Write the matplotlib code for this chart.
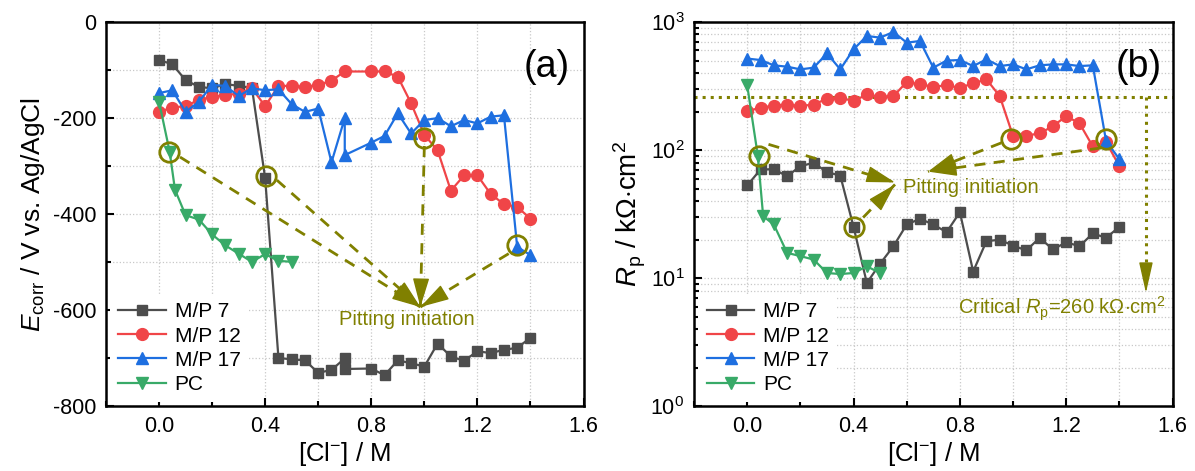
import numpy as np
import matplotlib
matplotlib.use("Agg")
import matplotlib.pyplot as plt
from matplotlib.ticker import MultipleLocator, LogLocator, NullFormatter

plt.rcParams['font.family'] = ['Liberation Sans', 'DejaVu Sans']
plt.rcParams['mathtext.fontset'] = 'custom'
plt.rcParams['mathtext.rm'] = 'Liberation Sans'
plt.rcParams['mathtext.it'] = 'Liberation Sans:italic'
plt.rcParams['axes.unicode_minus'] = False

# Data: [Cl-] concentration (M)
x_all = [0.0, 0.05, 0.1, 0.15, 0.2, 0.25, 0.3, 0.35, 0.4, 0.45, 0.5, 0.55, 0.6, 0.65,
         0.7, 0.75, 0.8, 0.85, 0.9, 0.95, 1.0, 1.05, 1.1, 1.15, 1.2, 1.25, 1.3, 1.35, 1.4]
# panel (a) has no 0.75 point and a doubled 0.7 point for some series
x_a = [0.0, 0.05, 0.1, 0.15, 0.2, 0.25, 0.3, 0.35, 0.4, 0.45, 0.5, 0.55, 0.6, 0.65,
       0.7, 0.7, 0.8, 0.85, 0.9, 0.95, 1.0, 1.05, 1.1, 1.15, 1.2, 1.25, 1.3, 1.35, 1.4]
x_a12 = [0.0, 0.05, 0.1, 0.15, 0.2, 0.25, 0.3, 0.35, 0.4, 0.45, 0.5, 0.55, 0.6, 0.65,
         0.7, 0.8, 0.85, 0.9, 0.95, 1.0, 1.05, 1.1, 1.15, 1.2, 1.25, 1.3, 1.35, 1.4]
x_pc = [0.0, 0.04, 0.06, 0.1, 0.15, 0.2, 0.25, 0.3, 0.35, 0.4, 0.45, 0.5]

# Ecorr (mV vs. Ag/AgCl)
ecorr_mp7 = [-79, -88, -121, -135, -138, -129, -133, -137, -325, -699, -702, -704, -730, -724,
             -700, -722, -721, -735, -704, -710, -717, -669, -696, -705, -685, -689, -682, -678, -657]
ecorr_mp12 = [-187, -178, -175, -162, -156, -152, -149, -138, -175, -133, -133, -135, -131, -122,
              -103, -103, -103, -114, -169, -235, -267, -351, -319, -319, -358, -379, -385, -409]
ecorr_mp17 = [-148, -142, -187, -166, -131, -133, -154, -138, -142, -140, -171, -187, -180, -292,
              -200, -277, -251, -237, -190, -232, -204, -200, -217, -204, -211, -197, -194, -468, -485]
ecorr_pc = [-166, -270, -349, -402, -411, -442, -465, -482, -499, -483, -497, -499]

# Rp (kOhm cm2)
rp_mp7 = [53, 70.7, 71, 62.6, 75, 79.7, 67.3, 63.4, 25.2, 9.2, 13, 17.8, 26.3, 29.1, 26.3,
          22.9, 32.8, 11.3, 19.5, 20, 18, 16.5, 20.7, 16.8, 19.1, 17.8, 22.4, 20.7, 25.2]
rp_mp12 = [202, 214, 223, 227, 221, 227, 252, 257, 241, 272, 261, 264, 340, 326, 313,
           320, 307, 332, 357, 264, 129, 130, 135, 154, 184, 162, 107, 116, 75]
rp_mp17 = [518, 505, 459, 448, 427, 440, 569, 427, 612, 778, 755, 836, 690, 711, 440,
           500, 505, 453, 511, 453, 467, 427, 459, 467, 467, 453, 459, 118, 85]
rp_pc = [320, 90, 30.5, 26.3, 15.8, 14.9, 14, 11, 10.8, 11, 12.4, 11]
rp_critical = 260

# pitting initiation points (x, y)
pit_a = [(0.039, -271), (0.404, -320), (1.0, -242), (1.35, -465)]
pit_a_start = [(0.079, -281), (0.444, -329), (1.0, -258), (1.318, -482)]
pit_a_tip = [(0.985, -593)] * 4
pit_b = [(0.043, 90), (0.4, 25), (0.994, 123), (1.35, 123)]
pit_b_start = [(0.08, 111), (0.436, 29.8), (0.956, 114), (1.331, 104)]
pit_b_tip = [(0.556, 56), (0.556, 54), (0.68, 68), (0.68, 68)]

c_gray = '#4d4d4d'
c_red = '#f04548'
c_blue = '#1e6fe0'
c_green = '#38aa68'
c_olive = '#808000'

styles = [('M/P 7', c_gray, 's', 7.5), ('M/P 12', c_red, 'o', 8.5),
          ('M/P 17', c_blue, '^', 8.5), ('PC', c_green, 'v', 8.5)]


def dashed_arrow(ax, start, tip, head_px=16):
    # dashed shaft + solid filled head
    ax.plot([start[0], tip[0]], [start[1], tip[1]], color=c_olive, lw=2,
            ls=(0, (4, 3)), zorder=4)
    p0 = ax.transData.transform(start)
    p1 = ax.transData.transform(tip)
    d = (p1 - p0) / np.hypot(*(p1 - p0))
    back = ax.transData.inverted().transform(p1 - d * head_px)
    ax.annotate('', xy=tip, xytext=back,
                arrowprops=dict(arrowstyle='-|>,head_length=0.7,head_width=0.2',
                                color=c_olive, lw=1, mutation_scale=26,
                                shrinkA=0, shrinkB=0), zorder=5)


fig = plt.figure(figsize=(11.95, 4.71), dpi=100)
ax1 = fig.add_axes([0.0887, 0.137, 0.3996, 0.8163])
ax2 = fig.add_axes([0.5808, 0.137, 0.4004, 0.8163])

ser_a = [(x_a, ecorr_mp7), (x_a12, ecorr_mp12), (x_a, ecorr_mp17), (x_pc, ecorr_pc)]
ser_b = [(x_all, rp_mp7), (x_all, rp_mp12), (x_all, rp_mp17), (x_pc, rp_pc)]

for ax, series in [(ax1, ser_a), (ax2, ser_b)]:
    for (xs, ys), (lab, col, mk, ms) in zip(series, styles):
        ax.plot(xs, ys, color=col, marker=mk, markersize=ms, lw=1.6, label=lab, zorder=3)

# ---- panel (a)
ax1.set_xlim(-0.2, 1.6)
ax1.set_ylim(-800, 0)
ax1.xaxis.set_major_locator(MultipleLocator(0.4))
ax1.xaxis.set_minor_locator(MultipleLocator(0.2))
ax1.yaxis.set_major_locator(MultipleLocator(200))
ax1.yaxis.set_minor_locator(MultipleLocator(100))
ax1.xaxis.set_major_formatter(lambda v, p: f"{v:.1f}")
ax1.set_ylabel(r'$E_\mathrm{corr}$ / V vs. Ag/AgCl', fontsize=19, labelpad=4)
ax1.text(0.972, 0.883, '(a)', transform=ax1.transAxes, fontsize=27, ha='right', va='center')

# ---- panel (b)
ax2.set_yscale('log')
ax2.set_xlim(-0.2, 1.6)
ax2.set_ylim(1, 1000)
ax2.xaxis.set_major_locator(MultipleLocator(0.4))
ax2.xaxis.set_minor_locator(MultipleLocator(0.2))
ax2.yaxis.set_major_locator(LogLocator(base=10))
ax2.yaxis.set_minor_locator(LogLocator(base=10, subs=np.arange(2, 10)))
ax2.yaxis.set_minor_formatter(NullFormatter())
ax2.xaxis.set_major_formatter(lambda v, p: f"{v:.1f}")
ax2.set_ylabel(r'$R_\mathrm{p}$ / k$\Omega$$\cdot$cm$^2$', fontsize=20, labelpad=2)
ax2.text(0.978, 0.883, '(b)', transform=ax2.transAxes, fontsize=27, ha='right', va='center')

ax2.axhline(rp_critical, color=c_olive, ls=':', lw=2.2, zorder=2)
ax2.plot([1.5, 1.5], [rp_critical, 9.5], color=c_olive, ls=':', lw=2.2, zorder=2)
ax2.annotate('', xy=(1.5, 7.7), xytext=(1.5, 10.5),
             arrowprops=dict(arrowstyle='-|>,head_length=0.8,head_width=0.18', color=c_olive,
                             lw=1, mutation_scale=24, shrinkA=0, shrinkB=0))
ax2.text(1.184, 5.8, r'Critical $R_\mathrm{p}$=260 k$\Omega$$\cdot$cm$^2$', color=c_olive,
         fontsize=14.5, ha='center', va='center')

for ax, pits, starts, tips in [(ax1, pit_a, pit_a_start, pit_a_tip),
                               (ax2, pit_b, pit_b_start, pit_b_tip)]:
    for (px, py) in pits:
        ax.plot(px, py, 'o', mfc='none', mec=c_olive, mew=2, ms=14, zorder=4)
    for st, tp in zip(starts, tips):
        dashed_arrow(ax, st, tp)

ax1.text(0.68, -619, 'Pitting initiation', color=c_olive, fontsize=14.5, va='center', ha='left')
ax2.text(0.586, 51, 'Pitting initiation', color=c_olive, fontsize=14.5, va='center', ha='left')

for ax in (ax1, ax2):
    ax.set_xlabel('[Cl$^{-}$] / M', fontsize=18.5, labelpad=2)
    ax.grid(True, which='both', color='#c8c8c8', ls=':', lw=0.9, zorder=0)
    ax.set_axisbelow(True)
    ax.tick_params(which='both', direction='in', labelsize=15.5, width=1.5)
    ax.tick_params(which='major', length=6, pad=7)
    ax.tick_params(which='minor', length=3.5)
    for sp in ax.spines.values():
        sp.set_linewidth(1.8)
    leg = ax.legend(loc='lower left', fontsize=15, frameon=True, fancybox=False,
                    edgecolor='none', facecolor='white', framealpha=1, handlelength=2.3,
                    borderaxespad=0.2, labelspacing=0.25, handletextpad=0.4)

fig.savefig('out.png', dpi=100)
